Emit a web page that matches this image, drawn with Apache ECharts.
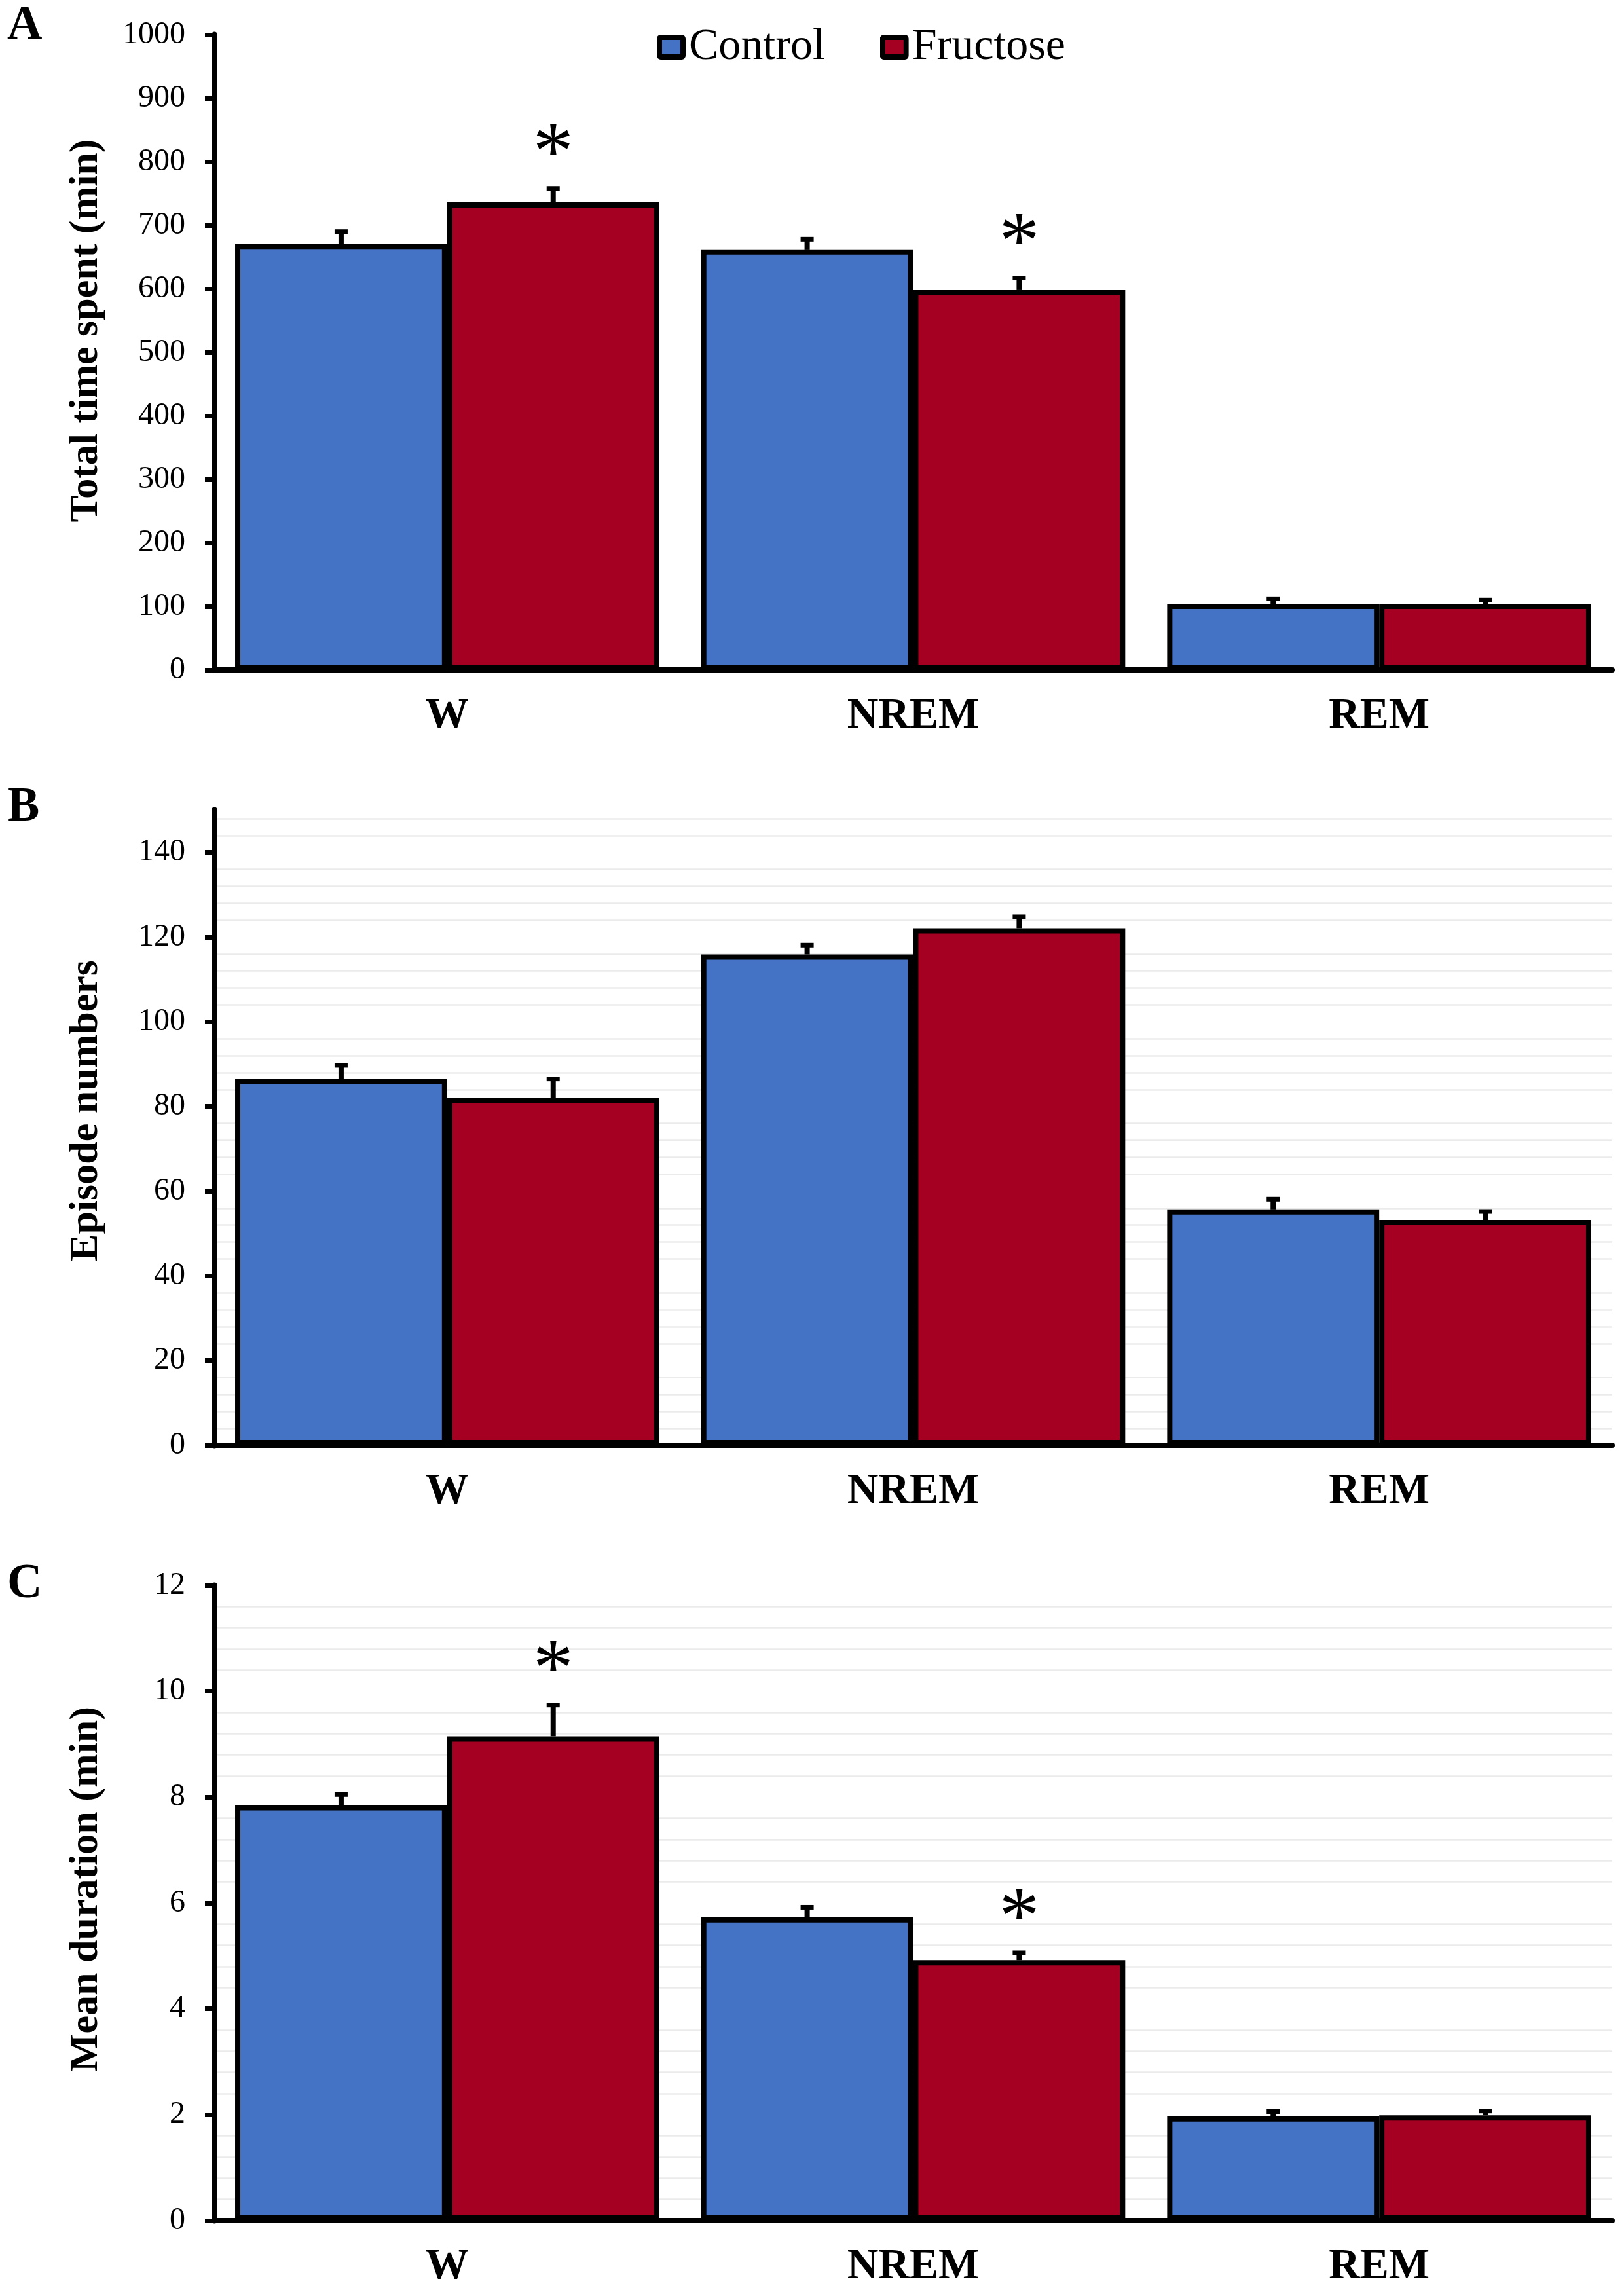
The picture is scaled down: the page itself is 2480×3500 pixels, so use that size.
<!DOCTYPE html>
<html>
<head>
<meta charset="utf-8">
<script src="https://cdn.jsdelivr.net/npm/echarts@6/dist/echarts.min.js"></script>
<style>
html,body{margin:0;padding:0;background:#fff;}
#chart{width:2480px;height:3500px;}
</style>
</head>
<body>
<div id="chart"></div>
<script>
// ---------- data ----------
const categories = ['W', 'NREM', 'REM'];
const seriesNames = ['Control', 'Fructose'];

// Panel A: Total time spent (min)
const totalControl = [671, 662, 104];
const totalControlErr = [19, 16, 8];
const totalFructose = [736, 598, 104];
const totalFructoseErr = [22, 19, 6];
const totalFructoseSig = [true, true, false];
const totalTicks = [0, 100, 200, 300, 400, 500, 600, 700, 800, 900, 1000];

// Panel B: Episode numbers
const episodeControl = [86.5, 115.9, 55.7];
const episodeControlErr = [3.2, 2.2, 2.4];
const episodeFructose = [82.1, 122.1, 53.2];
const episodeFructoseErr = [4.4, 2.7, 2.0];
const episodeFructoseSig = [false, false, false];
const episodeTicks = [0, 20, 40, 60, 80, 100, 120, 140];

// Panel C: Mean duration (min)
const durationControl = [7.85, 5.73, 1.97];
const durationControlErr = [0.2, 0.19, 0.09];
const durationFructose = [9.15, 4.92, 1.99];
const durationFructoseErr = [0.59, 0.14, 0.08];
const durationFructoseSig = [true, true, false];
const durationTicks = [0, 2, 4, 6, 8, 10, 12];

const panelLetters = ['A', 'B', 'C'];
const axisTitles = ['Total time spent (min)', 'Episode numbers', 'Mean duration (min)'];

// ---------- style ----------
const FONT = "'Liberation Serif', 'Times New Roman', serif";
const BLUE = '#4472C4';
const RED = '#A50021';
const CAT_GAP = 0.09;
const GRID_GRAY = '#EBEBEB';
const T = 'rgba(0,0,0,0)';

function legendIcon(color) {
  const svg = '<svg xmlns="http://www.w3.org/2000/svg" width="44" height="38" viewBox="0 0 44 38">' +
    '<rect x="4" y="4" width="36" height="30" rx="2" ry="2" fill="' + color + '" stroke="#000" stroke-width="8"/></svg>';
  return 'image://data:image/svg+xml;charset=utf-8,' + encodeURIComponent(svg);
}

const panels = [
  { control: totalControl, controlErr: totalControlErr, fructose: totalFructose, fructoseErr: totalFructoseErr,
    sig: totalFructoseSig, ticks: totalTicks, min: 0, max: 1000, minor: null, split: null,
    top: 53, titleShift: 66, letterY: 40 },
  { control: episodeControl, controlErr: episodeControlErr, fructose: episodeFructose, fructoseErr: episodeFructoseErr,
    sig: episodeFructoseSig, ticks: episodeTicks, min: 0, max: 150, minor: 2,
    split: [T, T, GRID_GRAY, T, GRID_GRAY, T, GRID_GRAY, T, GRID_GRAY, T],
    top: 1237, titleShift: 52, letterY: 1234 },
  { control: durationControl, controlErr: durationControlErr, fructose: durationFructose, fructoseErr: durationFructoseErr,
    sig: durationFructoseSig, ticks: durationTicks, min: 0, max: 12, minor: 0.4,
    split: [T, GRID_GRAY, GRID_GRAY, GRID_GRAY, GRID_GRAY],
    top: 2421, titleShift: 42, letterY: 2420 }
];

function barX(api, cat, sIdx) {
  const center = api.coord([cat, 0])[0];
  const band = api.size([1, 0])[0];
  const bw = band * (1 - CAT_GAP) / 2;
  return center + (sIdx === 0 ? -bw / 2 : bw / 2);
}

function errorRender(sIdx) {
  return function (params, api) {
    const cat = api.value(0), mean = api.value(1), err = api.value(2);
    const x = barX(api, cat, sIdx);
    const y0 = api.coord([cat, mean])[1];
    const y1 = api.coord([cat, mean + err])[1];
    return {
      type: 'group',
      children: [
        { type: 'line', shape: { x1: x, y1: y0, x2: x, y2: y1 }, style: { stroke: '#000', lineWidth: 8 } },
        { type: 'line', shape: { x1: x - 10, y1: y1, x2: x + 10, y2: y1 }, style: { stroke: '#000', lineWidth: 7 } }
      ]
    };
  };
}

function starRender(params, api) {
  const cat = api.value(0), sIdx = api.value(1), top = api.value(2);
  const x = barX(api, cat, sIdx);
  const y = api.coord([cat, top])[1] - 64 + 16;
  return {
    type: 'text',
    x: x, y: y,
    style: { text: '*', fontSize: 124, fontFamily: FONT, fill: '#000', align: 'center', verticalAlign: 'middle' }
  };
}

const grids = [], xAxes = [], yAxes = [], series = [], graphics = [];

panels.forEach((p, i) => {
  grids.push({ left: 327, right: 18, top: p.top, height: 970, containLabel: false });
  xAxes.push({
    gridIndex: i, type: 'category', data: categories,
    axisLine: { show: true, lineStyle: { color: '#000', width: 8 } },
    axisTick: { show: false },
    axisLabel: { fontSize: 66, fontWeight: 'bold', fontFamily: FONT, color: '#000', margin: 38 },
    splitLine: { show: false }
  });
  const mainAxisIndex = yAxes.length;
  yAxes.push({
    gridIndex: i, type: 'value', min: p.min, max: p.max,
    name: axisTitles[i], nameLocation: 'middle', nameGap: 164, nameRotate: 90,
    nameTextStyle: { fontSize: 62, fontWeight: 'bold', fontFamily: FONT, color: '#000', padding: [0, 0, 0, p.titleShift] },
    axisLine: { show: true, lineStyle: { color: '#000', width: 9 } },
    axisTick: { show: true, length: 14, lineStyle: { color: '#000', width: 7 }, customValues: p.ticks },
    axisLabel: { fontSize: 48, fontFamily: FONT, color: '#000', margin: 44, customValues: p.ticks,
                 formatter: function (v) { return String(v); } },
    splitLine: { show: false }
  });
  if (p.minor) {
    // light grid lines (Excel-style minor gridlines) on a hidden companion axis
    yAxes.push({
      gridIndex: i, type: 'value', min: p.min, max: p.max, interval: p.minor, position: 'left',
      axisLine: { show: false }, axisTick: { show: false }, axisLabel: { show: false },
      splitLine: { show: true, lineStyle: { color: p.split, width: 2.5 } },
      silent: true, z: 0
    });
  }

  const groups = [
    { name: seriesNames[0], color: BLUE, vals: p.control, errs: p.controlErr },
    { name: seriesNames[1], color: RED, vals: p.fructose, errs: p.fructoseErr }
  ];
  groups.forEach((g, s) => {
    series.push({
      name: g.name, type: 'bar', xAxisIndex: i, yAxisIndex: mainAxisIndex,
      data: g.vals,
      barGap: '0%', barCategoryGap: (CAT_GAP * 100) + '%',
      itemStyle: { color: g.color, borderColor: '#000', borderWidth: 8 },
      emphasis: { disabled: true }
    });
    series.push({
      name: g.name + ' SEM', type: 'custom', xAxisIndex: i, yAxisIndex: mainAxisIndex,
      renderItem: errorRender(s), silent: true, z: 5,
      encode: { x: 0, y: 1 },
      data: g.vals.map((v, k) => [k, v, g.errs[k]])
    });
  });
  const starData = [];
  p.sig.forEach((flag, k) => { if (flag) starData.push([k, 1, p.fructose[k] + p.fructoseErr[k]]); });
  series.push({
    name: 'significance', type: 'custom', xAxisIndex: i, yAxisIndex: mainAxisIndex,
    renderItem: starRender, silent: true, z: 6,
    encode: { x: 0, y: 2 },
    data: starData
  });

  graphics.push({
    type: 'text', x: 11, y: p.letterY,
    style: { text: panelLetters[i], fontSize: 74, fontWeight: 'bold', fontFamily: FONT, fill: '#000', align: 'left', verticalAlign: 'middle' }
  });
});

const chart = echarts.init(document.getElementById('chart'), null, { renderer: 'canvas' });
chart.setOption({
  animation: false,
  backgroundColor: '#fff',
  legend: {
    data: [
      { name: seriesNames[0], icon: legendIcon(BLUE) },
      { name: seriesNames[1], icon: legendIcon(RED) }
    ],
    left: 998, top: 33, orient: 'horizontal',
    itemWidth: 44, itemHeight: 38, itemGap: 84,
    textStyle: { fontSize: 68, fontFamily: FONT, color: '#000' },
    selectedMode: false
  },
  grid: grids,
  xAxis: xAxes,
  yAxis: yAxes,
  series: series,
  graphic: graphics
});
</script>
</body>
</html>
